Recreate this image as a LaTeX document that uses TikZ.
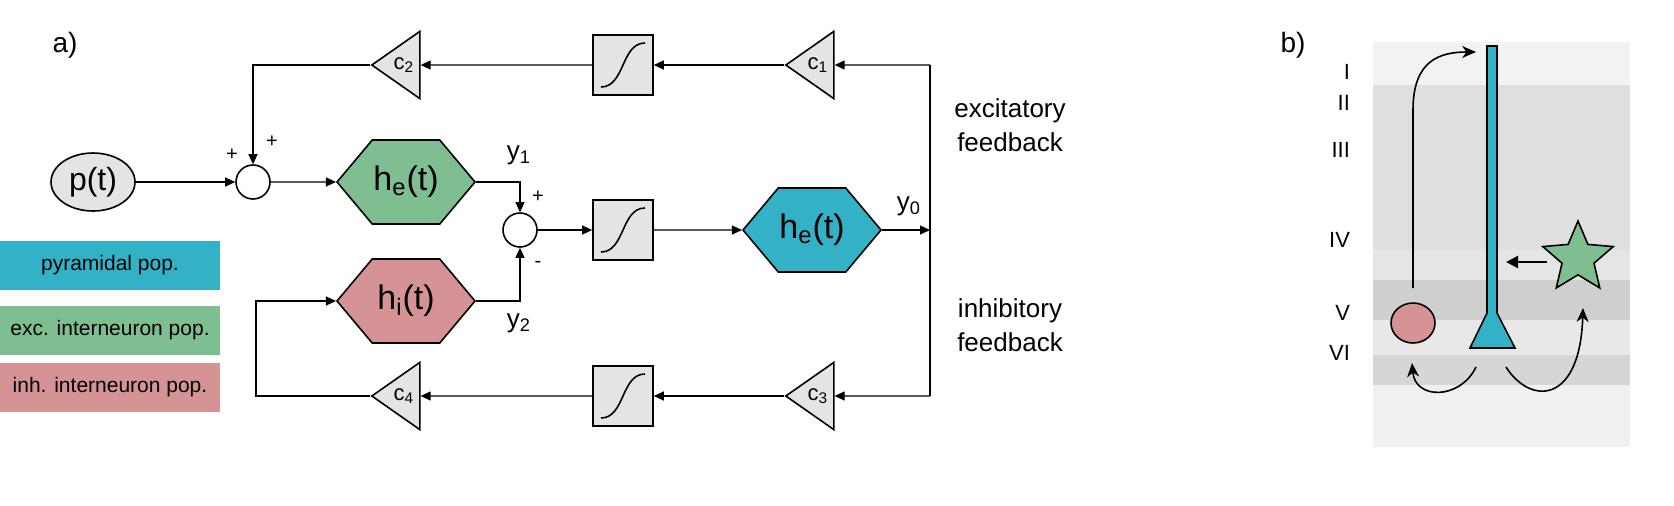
\documentclass[tikz,border=0pt]{standalone}
\usepackage{fontspec}
\setmainfont{Liberation Sans}
\usetikzlibrary{shapes.geometric,shapes.symbols,arrows.meta}
\definecolor{pyrblue}{RGB}{51,178,199}
\definecolor{excgreen}{RGB}{126,190,145}
\definecolor{inhpink}{RGB}{213,147,149}
\definecolor{boxgray}{RGB}{228,228,228}
\tikzset{
  pop/.style={draw, thick, signal, signal to=east and west, signal pointer angle=100,
    minimum width=69pt, minimum height=42pt, inner sep=0pt, font=\fontsize{17}{17}\selectfont},
  gain/.style={draw, thick, fill=boxgray, isosceles triangle, isosceles triangle apex angle=70,
    shape border rotate=180, inner sep=1pt, minimum height=24pt, font=\fontsize{11}{11}\selectfont},
  sig/.style={draw, thick, fill=boxgray, minimum size=30pt, inner sep=0pt},
  summ/.style={draw, thick, circle, fill=white, minimum size=17pt, inner sep=0pt},
  legend/.style={minimum width=110pt, minimum height=24.5pt, inner sep=0pt, font=\fontsize{10.5}{10.5}\selectfont},
  flow/.style={-{Triangle[length=5pt,width=4.5pt]}, semithick},
  sign/.style={font=\fontsize{10}{10}\selectfont},
  outlbl/.style={font=\fontsize{13}{13}\selectfont},
  layer/.style={anchor=east, font=\fontsize{11}{11}\selectfont},
  curv/.style={-{Stealth[length=7pt,width=6pt]}, thick}
}
\newcommand{\sigcurve}[1]{\draw[thick] ([shift={(-11pt,-11pt)}]#1.center) .. controls +(12pt,0pt) and +(-12pt,0pt) .. ([shift={(11pt,11pt)}]#1.center);}
\begin{document}
\begin{tikzpicture}[x=0.5pt,y=-0.5pt]
  \useasboundingbox (0,0) rectangle (1674,505);
  % panel a
  \node[font=\fontsize{14}{14}\selectfont] at (65,45) {a)};
  \node[legend, fill=pyrblue] at (110,265) {pyramidal pop.};
  \node[legend, fill=excgreen] at (110,330) {exc. interneuron pop.};
  \node[legend, fill=inhpink] at (110,387) {inh. interneuron pop.};

  \node[draw, thick, ellipse, fill=boxgray, minimum width=42pt, minimum height=29pt, inner sep=0pt,
    font=\fontsize{16}{16}\selectfont] (p) at (93,182) {p(t)};
  \node[summ] (s1) at (253,182) {};
  \node[pop, fill=excgreen] (he) at (406,182) {h\textsubscript{e}(t)};
  \node[pop, fill=inhpink] (hi) at (406,301) {h\textsubscript{i}(t)};
  \node[summ] (s2) at (520,230) {};
  \node[sig] (sm) at (623,230) {};
  \node[pop, fill=pyrblue] (hp) at (812,230) {h\textsubscript{e}(t)};
  \coordinate (out) at (930,230);
  \coordinate (top) at (930,65);
  \coordinate (bot) at (930,396);

  \node[gain] (c1) at (818,65) {c\textsubscript{1}};
  \node[sig] (st) at (623,65) {};
  \node[gain] (c2) at (404,65) {c\textsubscript{2}};
  \node[gain] (c3) at (818,396) {c\textsubscript{3}};
  \node[sig] (sb) at (623,396) {};
  \node[gain] (c4) at (404,396) {c\textsubscript{4}};
  \sigcurve{sm} \sigcurve{st} \sigcurve{sb}

  \draw[flow] (p) -- (s1);
  \draw[flow] (s1) -- (he);
  \draw[flow] (c2.apex) -| (s1.north);
  \draw[flow] (he.east) -| (s2.north);
  \draw[flow] (hi.east) -| (s2.south);
  \draw[flow] (s2) -- (sm);
  \draw[flow] (sm) -- (hp);
  \draw[flow] (hp.east) -- (out);
  \draw[semithick] (top) -- (bot);
  \draw[flow] (top) -- (c1.east);
  \draw[flow] (c1.apex) -- (st);
  \draw[flow] (st) -- (c2.east);
  \draw[flow] (bot) -- (c3.east);
  \draw[flow] (c3.apex) -- (sb);
  \draw[flow] (sb) -- (c4.east);
  \draw[flow] (c4.apex) -- (256,396) |- (hi.west);

  \node[sign] at (232,155) {+};
  \node[sign] at (272,142) {+};
  \node[sign] at (538,197) {+};
  \node[sign] at (538,264) {-};
  \node[outlbl] at (519,155) {y\textsubscript{1}};
  \node[outlbl] at (519,323) {y\textsubscript{2}};
  \node[outlbl] at (909,206) {y\textsubscript{0}};
  \node[align=center, font=\fontsize{13}{17}\selectfont] at (1010,125) {excitatory\\feedback};
  \node[align=center, font=\fontsize{13}{17}\selectfont] at (1010,325) {inhibitory\\feedback};

  % panel b
  \node[font=\fontsize{14}{14}\selectfont] at (1293,45) {b)};
  \fill[gray!10] (1373,42) rectangle (1630,447);
  \fill[gray!25] (1373,85) rectangle (1630,250);
  \fill[gray!20] (1373,250) rectangle (1630,280);
  \fill[gray!38] (1373,280) rectangle (1630,320);
  \fill[gray!18] (1373,320) rectangle (1630,355);
  \fill[gray!32] (1373,355) rectangle (1630,385);
  \fill[gray!12] (1373,385) rectangle (1630,447);
  \node[layer] at (1357,72) {I};
  \node[layer] at (1357,103) {II};
  \node[layer] at (1357,150) {III};
  \node[layer] at (1357,240) {IV};
  \node[layer] at (1357,313) {V};
  \node[layer] at (1357,353) {VI};

  \draw[thick, fill=pyrblue] (1487,46) -- (1497,46) -- (1497,313) -- (1515,348)
    -- (1470,348) -- (1487,313) -- cycle;
  \node[draw, thick, ellipse, fill=inhpink, minimum width=22pt, minimum height=20pt] (inh) at (1413,323) {};
  \node[draw, thick, star, star points=5, star point ratio=2.2, fill=excgreen,
    minimum size=37pt, inner sep=0pt] (exc) at (1578,258) {};
  \coordinate (dend) at (1506,262);
  \coordinate (tuft) at (1476,52);
  \draw[-{Triangle[length=6pt,width=6pt]}, very thick] (1547,262) -- (dend);
  \draw[curv] (1413,288) -- (1413,110) .. controls (1413,60) and (1440,52) .. (tuft);
  \draw[curv] (1476,367) .. controls (1460,400) and (1415,400) .. (1412,363);
  \draw[curv] (1506,367) .. controls (1530,405) and (1580,405) .. (1583,308);
\end{tikzpicture}
\end{document}
